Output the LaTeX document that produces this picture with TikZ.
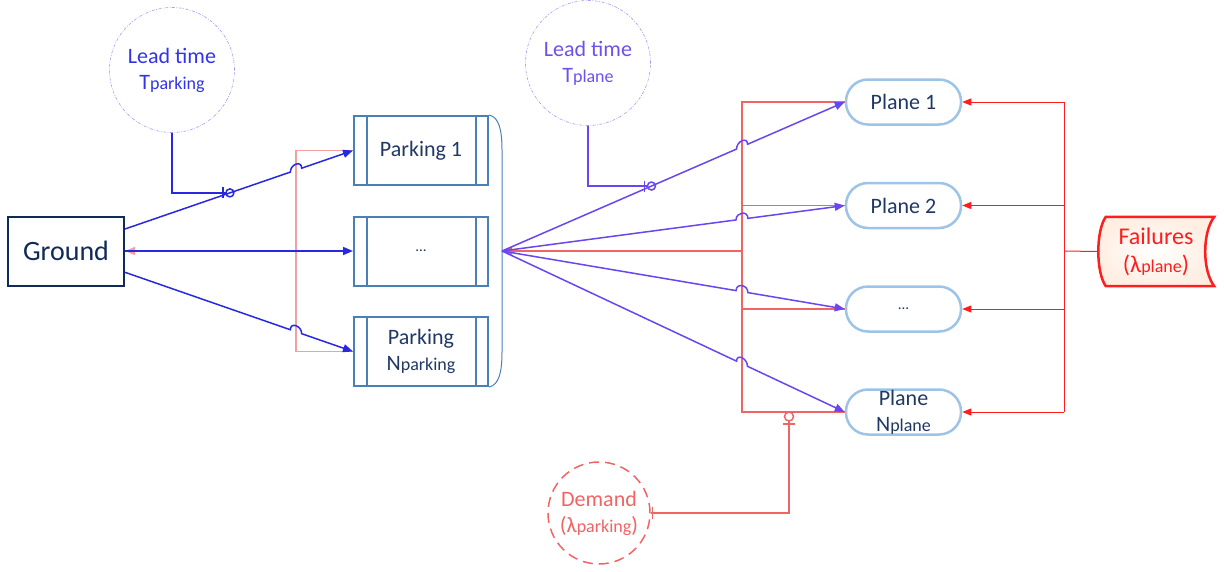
\documentclass[tikz,border=0pt]{standalone}
\usepackage{fontspec}
\setmainfont{Carlito}
\usetikzlibrary{arrows.meta,calc}
\definecolor{navy}{RGB}{16,42,90}
\definecolor{txtnavy}{RGB}{31,56,100}
\definecolor{pkblue}{RGB}{74,128,184}
\definecolor{plblue}{RGB}{157,195,230}
\definecolor{lblue}{RGB}{40,40,225}
\definecolor{pinkc}{RGB}{244,160,160}
\definecolor{purp}{RGB}{105,70,240}
\definecolor{salm}{RGB}{240,100,100}
\definecolor{redc}{RGB}{255,30,30}
\definecolor{peach}{RGB}{255,238,226}
\definecolor{circb}{RGB}{160,160,240}
\definecolor{ltxta}{RGB}{50,50,235}
\definecolor{ltxtb}{RGB}{110,80,235}
\newcommand\sbs[1]{{\fontsize{18}{20}\selectfont #1}}
\newcommand\hopline[5]{%
  \path (intersection of #2--#3 and #4--#5) coordinate (hx);
  \draw[#1] (#2) -- ($(hx)!6pt!(#2)$) .. controls ($(hx)!6pt!(#2)+(0,-8)$) and ($(hx)!6pt!(#3)+(0,-8)$) .. ($(hx)!6pt!(#3)$) -- (#3);
}
\begin{document}
\begin{tikzpicture}[x=1pt,y=-1pt,
  every node/.style={inner sep=0pt, font=\fontsize{22}{26}\selectfont, align=center},
  groundbox/.style={draw=navy, line width=2pt, minimum width=116pt, minimum height=69pt, text=navy, font=\fontsize{28}{30}\selectfont},
  pbox/.style={draw=pkblue, line width=2pt, minimum width=134pt, minimum height=69pt, text=txtnavy},
  planebox/.style={draw=plblue, line width=2.5pt, minimum width=115pt, minimum height=45pt, rounded corners=22pt, text=txtnavy},
  leadc/.style={circle, draw=circb, line width=0.6pt, dash pattern=on 3pt off 1.5pt on 0.8pt off 1.5pt, minimum size=125pt},
  tip/.style={-{Triangle[length=10pt,width=8pt]}},
  smalltip/.style={-{Triangle[length=9pt,width=7pt]}},
  blueline/.style={draw=lblue, line width=1.5pt},
  pinkline/.style={draw=pinkc, line width=1.6pt},
  purpline/.style={draw=purp, line width=1.5pt},
  salmline/.style={draw=salm, line width=1.5pt},
  redline/.style={draw=redc, line width=1pt},
]
\useasboundingbox (0,0) rectangle (1224,571);

% nodes
\node[groundbox] (ground) at (66,251) {Ground};
\node[pbox] (p1) at (421,150.5) {Parking 1};
\node[pbox] (p2) at (421,251) {{\fontsize{15}{15}\selectfont ...}};
\node[pbox] (p3) at (421,351.5) {Parking\\N\sbs{parking}};
\foreach \p in {p1,p2,p3}{
  \draw[pkblue, line width=2pt] ($(\p.north west)+(14,0)$) -- ($(\p.south west)+(14,0)$);
  \draw[pkblue, line width=2pt] ($(\p.north east)+(-13,0)$) -- ($(\p.south east)+(-13,0)$);
}
\coordinate (brk) at (502,251);
\draw[pkblue, line width=1pt] (p1.north east) .. controls (499,117) and (502,130) .. (502,150) -- (502,352) .. controls (502,372) and (499,385) .. (p3.south east);

\node[planebox] (q1) at (903.5,102) {Plane 1};
\node[planebox] (q2) at (903.5,205.5) {Plane 2};
\node[planebox] (q3) at (903.5,309) {{\fontsize{15}{15}\selectfont ...}};
\node[planebox] (q4) at (903.5,412) {Plane\\N\sbs{plane}};

\coordinate (fc) at (1156,251.5);
\shade[inner color=white, outer color=peach] ($(fc)+(-50,-34.5)$) -- ($(fc)+(58,-34.5)$)
  .. controls ($(fc)+(46,-18.5)$) and ($(fc)+(46,18.5)$) .. ($(fc)+(58,34.5)$)
  -- ($(fc)+(-50,34.5)$)
  .. controls ($(fc)+(-60,20.5)$) and ($(fc)+(-60,-20.5)$) .. cycle;
\node[minimum width=116pt, minimum height=69pt, text=redc, font=\fontsize{24}{28}\selectfont] (fail) at (fc) {Failures\\(λ\sbs{plane})};
\draw[redc, line width=2.5pt] ($(fail.north west)+(8,0)$) -- ($(fail.north east)$)
  .. controls ($(fail.north east)+(-12,16)$) and ($(fail.south east)+(-12,-16)$) .. (fail.south east)
  -- ($(fail.south west)+(8,0)$)
  .. controls ($(fail.south west)+(-2,-14)$) and ($(fail.north west)+(-2,14)$) .. cycle;

\node[leadc, text=ltxta] (ltp) at (172,70) {Lead time\\T\sbs{parking}};
\node[leadc, text=ltxtb] (ltl) at (588,63) {Lead time\\T\sbs{plane}};
\node[circle, draw=salm, line width=1.5pt, dash pattern=on 10pt off 6pt, minimum size=102pt, text=salm] (dem) at (599,513) {Demand\\(λ\sbs{parking})};

% left connectors
\coordinate (pk) at (296,251);
\coordinate (p1w) at (p1.west);
\coordinate (p3w) at (p3.west);
\coordinate (pkt) at (p1.west -| pk);
\coordinate (pkb) at (p3.west -| pk);
\draw[pinkline] (p1.west) -| (pk);
\draw[pinkline] (p3.west) -| (pk);
\draw[pinkline, tip, pinkc] (pk) -- (ground.east);
\coordinate (g1) at ($(ground.north east)!0.19!(ground.south east)$);
\coordinate (g3) at ($(ground.north east)!0.80!(ground.south east)$);
\draw[blueline, tip, lblue] (ground.east) -- (p2.west);
\hopline{blueline, tip, lblue}{g1}{p1w}{pkt}{pkb}
\hopline{blueline, tip, lblue}{g3}{p3w}{pkt}{pkb}

% lead time parking marker
\coordinate (m1) at ($(g1)!0.46!(p1w)$);
\draw[blueline] (ltp.south) |- ($(m1)+(-4,0)$);
\draw[blueline] (m1) circle (4);
\draw[blueline] ($(m1)+(-7,-5.5)$) -- ($(m1)+(-7,5.5)$);

% right connectors
\coordinate (rc) at (742,251);
\coordinate (rt) at (q1.west -| rc);
\coordinate (rb) at (q4.west -| rc);
\foreach \q in {q1,q2,q3,q4}{ \coordinate (\q w) at (\q.west); }
\draw[salmline] (q1.west) -| (rc);
\draw[salmline] (q4.west) -| (rc);
\draw[salmline] (q2.west) -- (q2.west -| rc);
\draw[salmline] (q3.west) -- (q3.west -| rc);
\draw[salmline, tip, salm] (rc) -- (brk);
\hopline{purpline, tip, purp}{brk}{q1w}{rt}{rb}
\hopline{purpline, tip, purp}{brk}{q2w}{rt}{rb}
\hopline{purpline, tip, purp}{brk}{q3w}{rt}{rb}
\hopline{purpline, tip, purp}{brk}{q4w}{rt}{rb}

% lead time plane marker
\coordinate (m2) at ($(brk)!0.436!(q1w)$);
\draw[purpline] (ltl.south) |- ($(m2)+(-4,0)$);
\draw[purpline] (m2) circle (4);
\draw[purpline] ($(m2)+(-7,-5.5)$) -- ($(m2)+(-7,5.5)$);

% demand connector
\coordinate (dtop) at ($(rb)+(47,0)$);
\draw[salmline] (dem.east) -| ($(dtop)+(0,9)$);
\draw[salmline] ($(dtop)+(0,4.5)$) circle (4.5);
\draw[salmline] ($(dtop)+(-6,12)$) -- ($(dtop)+(6,12)$);
\draw[salmline] ($(dem.east)+(1.5,-6)$) -- ($(dem.east)+(1.5,6)$);

% failures connectors
\coordinate (fv) at (1064,251);
\draw[redline] (fail.west) -- (fv);
\draw[redline] (q1.east -| fv) -- (q4.east -| fv);
\foreach \q in {q1,q2,q3,q4}{
  \draw[redline, smalltip, redc] (\q.east -| fv) -- (\q.east);
}
\end{tikzpicture}
\end{document}
